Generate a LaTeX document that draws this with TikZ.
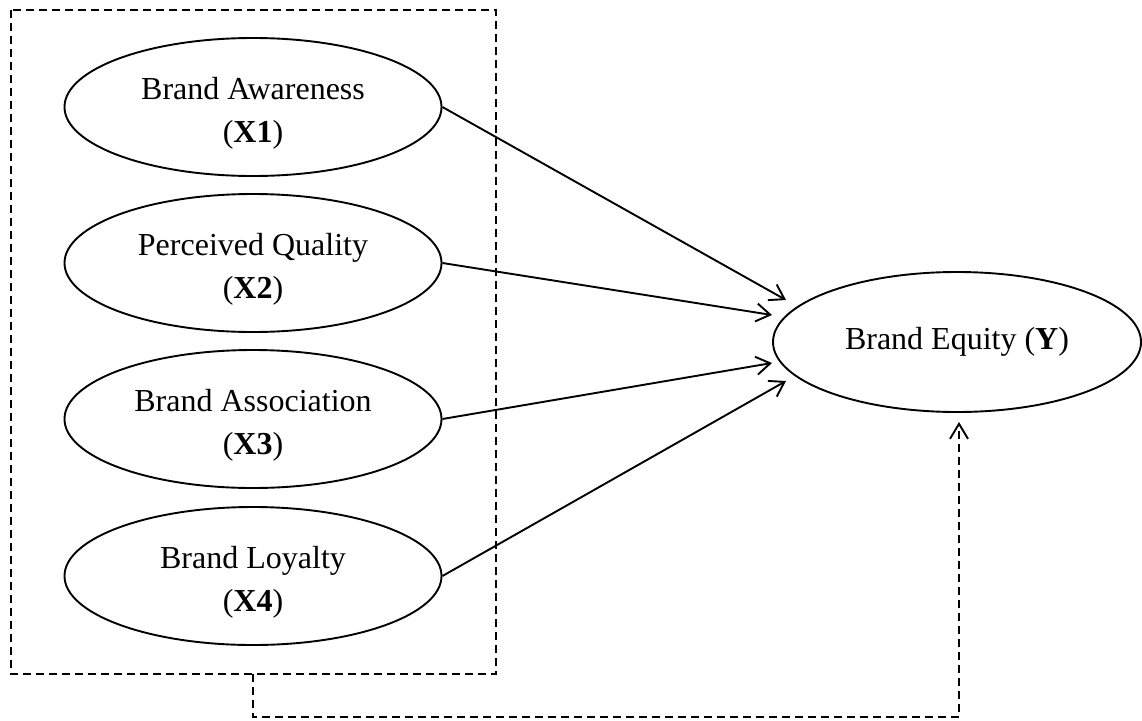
\documentclass[tikz,border=0pt]{standalone}
\usepackage{fontspec}
\setmainfont{Liberation Serif}
\usetikzlibrary{shapes.geometric,arrows.meta}
\newcommand{\lowerstrut}{\rule{0pt}{35pt}}
\tikzset{
  latent/.style={ellipse,draw,line width=1.9pt,inner sep=0pt,
    minimum width=377pt,minimum height=138pt,align=center,
    font=\fontsize{32}{43}\selectfont},
  path arrow/.style={line width=1.9pt,-{Straight Barb[length=14pt,width=18pt,line width=1.9pt]}},
  groupbox/.style={line width=1.9pt,dash pattern=on 8pt off 5pt},
}
\begin{document}
\begin{tikzpicture}[x=1pt,y=-1pt]
\useasboundingbox (0,0) rectangle (1142,720);
\node[latent] (x1) at (253,107) {\lowerstrut Brand Awareness\\(\textbf{X1})};
\node[latent] (x2) at (253,263) {\lowerstrut Perceived Quality\\(\textbf{X2})};
\node[latent] (x3) at (253,419) {\lowerstrut Brand Association\\(\textbf{X3})};
\node[latent] (x4) at (253,576) {\lowerstrut Brand Loyalty\\(\textbf{X4})};
\node[latent,minimum width=368pt,minimum height=140pt] (y) at (957,342) {Brand Equity (\textbf{Y})};
\coordinate (t1) at (786,300);
\coordinate (t2) at (772,315);
\coordinate (t3) at (772,363);
\coordinate (t4) at (786,381);
\coordinate (b1) at (11,10);
\coordinate (b2) at (496,674);
\coordinate (c1) at (253,674);
\coordinate (c2) at (253,717);
\coordinate (c3) at (959,717);
\coordinate (c4) at (959,422);
\draw[groupbox] (b1) rectangle (b2);
\draw[path arrow] (x1.east) -- (t1);
\draw[path arrow] (x2.east) -- (t2);
\draw[path arrow] (x3.east) -- (t3);
\draw[path arrow] (x4.east) -- (t4);
\draw[groupbox,-{Straight Barb[length=15pt,width=18pt,line width=1.9pt]}] (c1) -- (c2) -- (c3) -- (c4);
\end{tikzpicture}
\end{document}
